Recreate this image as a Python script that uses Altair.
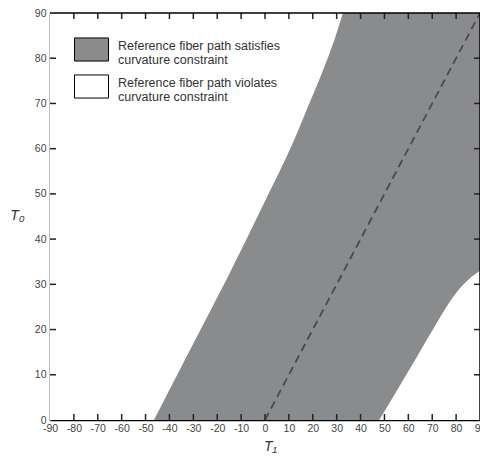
import altair as alt
import pandas as pd

# ---- data ----
# left "violates" region boundary (T1 as a function of T0)
left_T0 = [0, 16.9, 31.5, 46.2, 62.0, 69.3, 76.7, 84.0, 90]
left_T1 = [-46.5, -30.0, -15.7, -2.0, 12.3, 18.0, 23.8, 29.0, 32.6]
# right "violates" region boundary (T0 as a function of T1)
right_T1 = [47.8, 55.3, 63.5, 71.7, 78.6, 86.1, 90]
right_T0 = [0, 6.6, 13.9, 21.3, 27.1, 31.5, 33.0]
# dashed reference line
ref_T1 = [0, 90]
ref_T0 = [0, 90]
# axis ticks / labels
x_ticks = list(range(-90, 91, 10))
y_ticks = list(range(0, 91, 10))
x_inner_ticks = [v for v in x_ticks if -90 < v < 90]
y_inner_ticks = [v for v in y_ticks if 0 < v < 90]
categories = [
    "Reference fiber path satisfies|curvature constraint",
    "Reference fiber path violates|curvature constraint",
]
colors = ["#8a8b8d", "#ffffff"]

W, H = 430, 407
FONT = "Liberation Sans"
TICK = 6

xscale = alt.Scale(domain=[-90, 90], nice=False, zero=False)
yscale = alt.Scale(domain=[0, 90], nice=False, zero=False)

xaxis = alt.Axis(
    values=x_ticks, tickSize=0, labelPadding=3, domainColor="black", domainWidth=1.5,
    labelFont=FONT, labelFontSize=10.5, labelColor="#444", labelFlush=False,
    labelExpr="toString(datum.value)",
    grid=False, title="T₁", titleFont=FONT, titleFontStyle="italic",
    titleFontWeight="normal", titleFontSize=14, titleColor="#333",
    titleBaseline="alphabetic", titleY=30, titleX=220,
)
yaxis = alt.Axis(
    values=y_ticks, tickSize=0, labelPadding=4, domainColor="black", domainWidth=1.5,
    labelFont=FONT, labelFontSize=10.5, labelColor="#444", labelFlush=False,
    labelExpr="toString(datum.value)",
    grid=False, title="T₀", titleFont=FONT, titleFontStyle="italic",
    titleFontWeight="normal", titleFontSize=14, titleColor="#333", titleAngle=0,
    titleAlign="center", titleBaseline="middle", titleX=-33, titleY=202,
)

color = alt.Color(
    "region:N",
    scale=alt.Scale(domain=categories, range=colors),
    legend=alt.Legend(
        title=None, orient="none", legendX=24, legendY=19, padding=0,
        symbolType="M-1,-0.68H1V0.68H-1Z", symbolSize=1156,
        symbolStrokeColor="black", symbolStrokeWidth=1, symbolOpacity=1,
        labelExpr="split(datum.label, '|')", labelFont=FONT, labelFontSize=12.5,
        labelBaseline="alphabetic",
        labelColor="#333", labelOffset=9, rowPadding=2, labelLimit=300,
    ),
)

bg_df = pd.DataFrame({"T1": [-90], "T1b": [90], "T0": [0], "T0b": [90], "region": [categories[0]]})
left_df = pd.DataFrame({"T0": left_T0, "T1": left_T1, "region": categories[1]})
right_df = pd.DataFrame({"T1": right_T1, "T0": right_T0, "region": categories[1]})
ref_df = pd.DataFrame({"T1": ref_T1, "T0": ref_T0})
xt_df = pd.DataFrame({"T1": x_inner_ticks})
yt_df = pd.DataFrame({"T0": y_inner_ticks})
frame_df = pd.DataFrame({"k": [0]})

bg = alt.Chart(bg_df).mark_rect(strokeWidth=0).encode(
    x=alt.X("T1:Q", scale=xscale, axis=xaxis),
    x2="T1b:Q",
    y=alt.Y("T0:Q", scale=yscale, axis=yaxis),
    y2="T0b:Q",
    color=color,
)

left_area = alt.Chart(left_df).mark_area(
    orient="horizontal", interpolate="monotone", opacity=1
).encode(
    y=alt.Y("T0:Q", scale=yscale, axis=yaxis),
    x=alt.X("T1:Q", scale=xscale, axis=xaxis),
    x2=alt.datum(-90),
    color=color,
)

right_area = alt.Chart(right_df).mark_area(
    orient="vertical", interpolate="monotone", opacity=1
).encode(
    x=alt.X("T1:Q", scale=xscale, axis=xaxis),
    y=alt.Y("T0:Q", scale=yscale, axis=yaxis),
    y2=alt.datum(0),
    color=color,
)

ref_line = alt.Chart(ref_df).mark_line(
    strokeDash=[8, 5], color="#4a4a4a", strokeWidth=1.8
).encode(
    x=alt.X("T1:Q", scale=xscale, axis=xaxis),
    y=alt.Y("T0:Q", scale=yscale, axis=yaxis),
)

tick_style = dict(color="#222", strokeWidth=1.5)
bottom_ticks = alt.Chart(xt_df).mark_rule(**tick_style).encode(
    x=alt.X("T1:Q", scale=xscale, axis=xaxis), y=alt.value(H), y2=alt.value(H - TICK)
)
top_ticks = alt.Chart(xt_df).mark_rule(**tick_style).encode(
    x=alt.X("T1:Q", scale=xscale, axis=xaxis), y=alt.value(0), y2=alt.value(TICK)
)
left_ticks = alt.Chart(yt_df).mark_rule(**tick_style).encode(
    y=alt.Y("T0:Q", scale=yscale, axis=yaxis), x=alt.value(0), x2=alt.value(TICK)
)
right_ticks = alt.Chart(yt_df).mark_rule(**tick_style).encode(
    y=alt.Y("T0:Q", scale=yscale, axis=yaxis), x=alt.value(W), x2=alt.value(W - TICK)
)

# top and right frame lines (drawn above the filled regions)
frame_top = alt.Chart(frame_df).mark_rule(color="black", strokeWidth=1.5).encode(
    x=alt.value(0), x2=alt.value(W), y=alt.value(0)
)
frame_right = alt.Chart(frame_df).mark_rule(color="black", strokeWidth=1.5).encode(
    x=alt.value(W), y=alt.value(0), y2=alt.value(H)
)

chart = alt.layer(
    bg, left_area, right_area, ref_line, bottom_ticks, top_ticks, left_ticks, right_ticks,
    frame_top, frame_right,
).properties(
    width=W, height=H,
    autosize=alt.AutoSizeParams(type="none"),
    padding={"left": 42, "top": 5, "right": 0, "bottom": 34},
).configure_view(
    stroke="black", strokeWidth=1.5
).configure(background="white")

chart.save("out.html", embed_options={"renderer": "svg", "actions": False})
